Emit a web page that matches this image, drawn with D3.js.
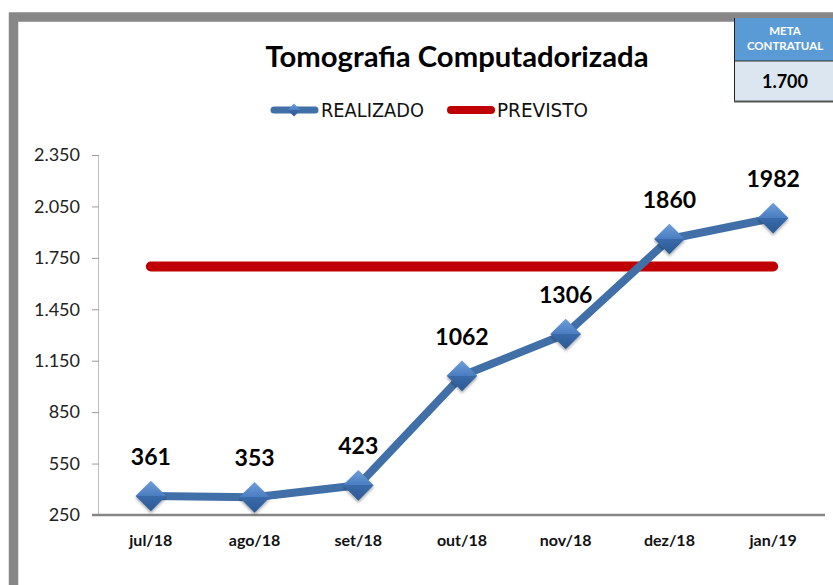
<!DOCTYPE html>
<html><head><meta charset="utf-8">
<script src="https://cdn.jsdelivr.net/npm/d3@7"></script>
<style>
html,body{margin:0;padding:0;background:#fff;}
svg{display:block;font-family:Lato, "Open Sans", sans-serif;}
</style></head>
<body>
<svg id="c" width="833" height="585"></svg>
<script>
const categories = ["jul/18","ago/18","set/18","out/18","nov/18","dez/18","jan/19"];
const realizado = [361,353,423,1062,1306,1860,1982];
const previsto = [1700,1700,1700,1700,1700,1700,1700];
const yTicks = [250,550,850,1150,1450,1750,2050,2350];
const title = "Tomografia Computadorizada";
const seriesNames = ["REALIZADO","PREVISTO"];
const metaLabel = ["META","CONTRATUAL"];
const metaValue = "1.700";

const svg = d3.select("#c");
const defs = svg.append("defs");
const g1 = defs.append("linearGradient").attr("id","dg").attr("x1","0").attr("y1","0").attr("x2","0").attr("y2","1");
g1.append("stop").attr("offset","0").attr("stop-color","#6E9FDB");
g1.append("stop").attr("offset","0.5").attr("stop-color","#4A7DC0");
g1.append("stop").attr("offset","0.5").attr("stop-color","#3A6AAA");
g1.append("stop").attr("offset","1").attr("stop-color","#2B5A94");
const f = defs.append("filter").attr("id","sh").attr("x","-50%").attr("y","-50%").attr("width","200%").attr("height","200%");
f.append("feDropShadow").attr("dx",0).attr("dy",2).attr("stdDeviation",1.5).attr("flood-color","#000").attr("flood-opacity",0.35);

// frame
svg.append("rect").attr("x",13.5).attr("y",17).attr("width",840).attr("height",600)
  .attr("fill","#fff").attr("stroke","#878787").attr("stroke-width",9.5);

const x = d3.scaleBand().domain(categories).range([99,825]);
const y = d3.scaleLinear().domain([250,2350]).range([515,155]);
const cx = d => x(d) + x.bandwidth()/2;

// title
svg.append("text").attr("x",457).attr("y",67).attr("text-anchor","middle")
  .attr("font-size",28).attr("font-weight","bold").attr("fill","#000")
  .attr("textLength",383).attr("lengthAdjust","spacingAndGlyphs").text(title);

// legend
const lfont = "'DejaVu Sans Condensed', 'Liberation Sans Narrow', sans-serif";
const lg = svg.append("g");
lg.append("line").attr("x1",274).attr("x2",315).attr("y1",110).attr("y2",110)
  .attr("stroke","#4170A8").attr("stroke-width",7).attr("stroke-linecap","round");
lg.append("path").attr("d",d3.symbol(d3.symbolDiamond2,110)()).attr("transform","translate(294,110)")
  .attr("fill","url(#dg)");
lg.append("text").attr("x",321).attr("y",117).attr("font-size",19).attr("fill","#111")
  .attr("font-family",lfont).attr("textLength",103).attr("lengthAdjust","spacingAndGlyphs").text(seriesNames[0]);
lg.append("line").attr("x1",451).attr("x2",491).attr("y1",110).attr("y2",110)
  .attr("stroke","#C00000").attr("stroke-width",8).attr("stroke-linecap","round");
lg.append("text").attr("x",497).attr("y",117).attr("font-size",19).attr("fill","#111")
  .attr("font-family",lfont).attr("textLength",91).attr("lengthAdjust","spacingAndGlyphs").text(seriesNames[1]);

// y axis
const ya = svg.append("g").attr("transform","translate(99,0)")
  .call(d3.axisLeft(y).tickValues(yTicks).tickSize(7).tickPadding(12)
    .tickFormat(d => d3.format(",")(d).replace(/,/g,".")));
ya.select(".domain").attr("stroke","#BFBFBF").attr("d","M-0.5,155V515");
ya.selectAll(".tick line").attr("stroke","#9A9A9A");
ya.selectAll("text").attr("font-size",18).attr("fill","#222").attr("font-family","Lato, sans-serif");

// x axis
const xa = svg.append("g").attr("transform","translate(0,515)")
  .call(d3.axisBottom(x).tickSize(0).tickPadding(20));
xa.select(".domain").attr("stroke","#868686").attr("stroke-width",2.5).attr("d","M92,0H825");
xa.selectAll("text").attr("font-size",16).attr("font-weight","bold").attr("fill","#111").attr("font-family","Lato, sans-serif");

// previsto line
svg.append("path").datum(previsto)
  .attr("d", d3.line().x((d,i)=>cx(categories[i])).y(d=>y(d)))
  .attr("fill","none").attr("stroke","#C00000").attr("stroke-width",10).attr("stroke-linecap","round");

// realizado line
svg.append("path").datum(realizado)
  .attr("d", d3.line().x((d,i)=>cx(categories[i])).y(d=>y(d)))
  .attr("fill","none").attr("stroke","#4170A8").attr("stroke-width",8).attr("stroke-linejoin","round");

// markers
svg.selectAll(".mk").data(realizado).join("path").attr("class","mk")
  .attr("d", d3.symbol(d3.symbolDiamond2, 600)())
  .attr("transform",(d,i)=>`translate(${cx(categories[i])},${y(d)})`)
  .attr("fill","url(#dg)").attr("filter","url(#sh)");

// labels
svg.selectAll(".lb").data(realizado).join("text").attr("class","lb")
  .attr("x",(d,i)=>cx(categories[i])).attr("y",d=>y(d)-31)
  .attr("text-anchor","middle").attr("font-size",23).attr("font-weight","bold").attr("fill","#000")
  .text(d=>d);

// meta box
const mb = svg.append("g");
mb.append("rect").attr("x",734).attr("y",18).attr("width",110).attr("height",43).attr("fill","#5B9BD5");
mb.append("rect").attr("x",734).attr("y",61).attr("width",110).attr("height",40).attr("fill","#DCE6F1");
mb.append("line").attr("x1",734).attr("x2",840).attr("y1",61).attr("y2",61).attr("stroke","#333").attr("stroke-width",1);
mb.append("line").attr("x1",734.5).attr("x2",734.5).attr("y1",18).attr("y2",102).attr("stroke","#222").attr("stroke-width",1);
mb.append("line").attr("x1",734).attr("x2",840).attr("y1",101.5).attr("y2",101.5).attr("stroke","#555").attr("stroke-width",2);
mb.selectAll(".ml").data(metaLabel).join("text").attr("class","ml")
  .attr("x",785).attr("y",(d,i)=>35+i*15).attr("text-anchor","middle")
  .attr("font-size",11.5).attr("font-weight","bold").attr("fill","#fff").text(d=>d);
mb.append("text").attr("x",785).attr("y",88).attr("text-anchor","middle")
  .attr("font-size",18).attr("font-weight","bold").attr("fill","#000").text(metaValue);
</script>
</body></html>
